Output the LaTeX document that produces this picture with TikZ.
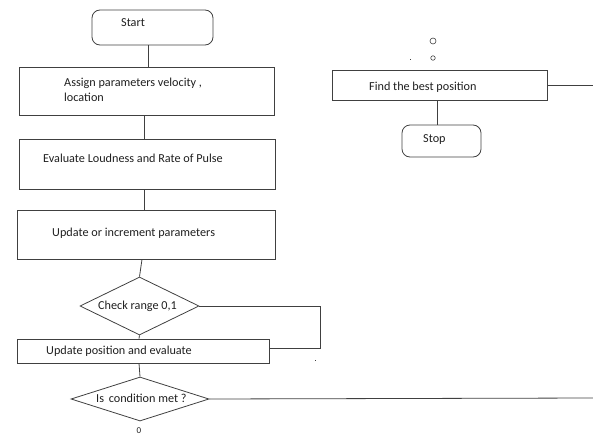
\documentclass[tikz,border=0pt]{standalone}
\usepackage{fontspec}
\setmainfont{Carlito}
\usetikzlibrary{shapes.geometric}
\definecolor{ln}{HTML}{404040}
\definecolor{tx}{HTML}{1F1F1F}
\tikzset{
  x=1pt, y=-1pt,
  boxst/.style={draw=ln, line width=0.8pt, inner sep=0pt},
  rbox/.style={boxst, rounded corners=8pt},
  dia/.style={draw=ln, line width=0.8pt, diamond, inner sep=0pt},
  txt/.style={text=tx, font=\fontsize{12.2}{15}\selectfont, inner sep=0pt, anchor=west, align=left},
  conn/.style={draw=ln, line width=0.8pt},
}
\begin{document}
\begin{tikzpicture}
\useasboundingbox (0,0) rectangle (593,444);
\clip (0,0) rectangle (593,444);
% start
\node[rbox, minimum width=121pt, minimum height=35pt] (start) at (152.5,27.5) {};
\node[txt] (tstart) at (121,22.5) {Start};
% assign
\node[boxst, minimum width=255pt, minimum height=48pt] (assign) at (146.5,91) {};
\node[txt] (tassign) at (64,89.5) {Assign parameters velocity ,\\location};
% evaluate
\node[boxst, minimum width=256pt, minimum height=50pt] (eval) at (147,164) {};
\node[txt] (teval) at (43,158) {Evaluate Loudness and Rate of Pulse};
% update
\node[boxst, minimum width=258pt, minimum height=49pt] (upd) at (146.5,234.5) {};
\node[txt] (tupd) at (52,233) {Update or increment parameters};
% check diamond
\node[dia, minimum width=119pt, minimum height=58pt] (check) at (139.5,306) {};
\node[txt] (tcheck) at (98,306) {Check range 0,1};
% update position
\node[boxst, minimum width=252pt, minimum height=24pt] (pos) at (143,351) {};
\node[txt] (tpos) at (46,351) {Update position and evaluate};
% condition diamond
\node[dia, minimum width=138pt, minimum height=44pt] (cond) at (140,399) {};
\node[txt] (tcond) at (96,398) {Is\, condition met ?};
\node[txt, anchor=center, font=\fontsize{9}{11}\selectfont] (zero) at (139,431) {0};
% find best
\node[boxst, minimum width=215pt, minimum height=30pt] (best) at (439.5,85) {};
\node[txt] (tbest) at (369,87) {Find the best position};
% stop
\node[rbox, minimum width=79pt, minimum height=32pt] (stop) at (441.5,141) {};
\node[txt] (tstop) at (423,140) {Stop};
% small marks
\node[draw=ln, circle, line width=0.6pt, minimum size=6pt, inner sep=0pt] (c1) at (433,41) {};
\node[draw=ln, circle, line width=0.6pt, minimum size=4.5pt, inner sep=0pt] (c2) at (433,58) {};
\fill[ln] (409.5,58.5) rectangle (410.5,59.5);
\fill[ln] (314.5,360) rectangle (316,361);
\coordinate (loopA) at (320,306);
\coordinate (loopB) at (320,348);
\coordinate (endC) at (593,398);
\coordinate (endB) at (593,85);
% connectors
\draw[conn] ([xshift=-4.5pt]start.south) -- ([xshift=1.5pt]assign.north);
\draw[conn] ([xshift=-2.5pt]assign.south) -- ([xshift=-3pt]eval.north);
\draw[conn] ([xshift=-3pt]eval.south) -- ([xshift=-2.5pt]upd.north);
\draw[conn] ([xshift=-4.5pt]upd.south) -- (check.north);
\draw[conn] (check.south) -- ([xshift=-4pt]pos.north);
\draw[conn] (check.east) -- (loopA) -- (loopB) -- (pos.east |- loopB);
\draw[conn] ([xshift=-4pt]pos.south) -- (cond.north);
\draw[conn] (cond.east) -- (endC);
\draw[conn] (best.east) -- (endB);
\draw[conn] ([xshift=-2.5pt]best.south) -- ([xshift=-4.5pt]stop.north);
\end{tikzpicture}
\end{document}
